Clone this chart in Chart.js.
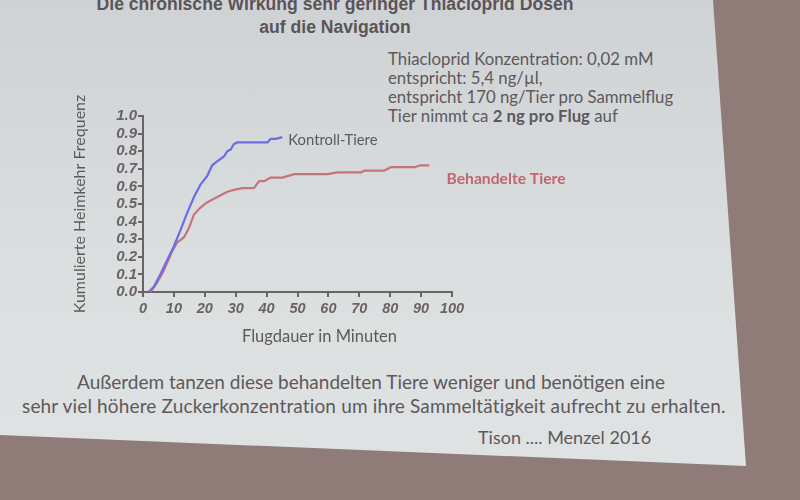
<!DOCTYPE html>
<html lang="de">
<head>
<meta charset="utf-8">
<title>Thiacloprid Heimkehr</title>
<script src="https://cdn.jsdelivr.net/npm/chart.js@4.4.1/dist/chart.umd.min.js"></script>
<style>
  html, body {
    margin: 0;
    padding: 0;
    width: 800px;
    height: 500px;
    overflow: hidden;
    background: #8f7b77;
  }
  #slide {
    position: absolute;
    left: 0;
    top: 0;
    width: 800px;
    height: 500px;
    background: linear-gradient(180deg, #cfd2d4 0%, #dcdfe0 55%, #e0e3e4 100%);
    clip-path: polygon(0 0, 713px 0, 746px 466px, 0 435px);
  }
  .txt {
    position: absolute;
    white-space: nowrap;
    color: #5e585b;
  }
  .title {
    font-family: "Liberation Sans", Arial, sans-serif;
    font-weight: bold;
    font-size: 17.6px;
    color: #5b5457;
    width: 670px;
    left: 0;
    text-align: center;
  }
  .note {
    font-family: Lato, "Open Sans", sans-serif;
    font-size: 16.8px;
    line-height: 19px;
  }
  .foot {
    font-family: Lato, "Open Sans", sans-serif;
    font-size: 19px;
  }
  #wrap {
    position: absolute;
    left: 0;
    top: 0;
    width: 800px;
    height: 500px;
  }
</style>
</head>
<body>
<div id="slide"></div>

<div class="txt title" style="top:-6px;">Die chronische Wirkung sehr geringer Thiacloprid Dosen</div>
<div class="txt title" style="top:17px;">auf die Navigation</div>

<div class="txt note" style="left:388px; top:49px;">Thiacloprid Konzentration: 0,02 mM<br>entspricht: 5,4 ng/µl,<br>entspricht 170 ng/Tier pro Sammelflug<br>Tier nimmt ca <b>2 ng pro Flug</b> auf</div>

<div class="txt foot" style="left:77px; top:370px;">Außerdem tanzen diese behandelten Tiere weniger und benötigen eine</div>
<div class="txt foot" style="left:22px; top:394px; letter-spacing:0.15px;">sehr viel höhere Zuckerkonzentration um ihre Sammeltätigkeit aufrecht zu erhalten.</div>
<div class="txt foot" style="left:478px; top:426px; font-size:18px;">Tison .... Menzel 2016</div>

<div id="wrap"><canvas id="heimkehrChart"></canvas></div>

<script>
// Kumulierte Heimkehr-Frequenz
const kontrollMinuten = [1.8, 3.5, 5.6, 7.8, 10.0, 12.1, 14.3, 16.5, 18.6, 20.8, 22.4, 24.6, 26.2, 27.3, 28.4, 29.4, 30.5, 32.1, 35.9, 40.3, 41.3, 42.9, 45.1];
const kontrollAnteil = [0.00, 0.03, 0.10, 0.18, 0.26, 0.35, 0.45, 0.54, 0.61, 0.66, 0.72, 0.75, 0.77, 0.80, 0.81, 0.84, 0.85, 0.85, 0.85, 0.85, 0.87, 0.87, 0.88];

const behandeltMinuten = [2.4, 4.5, 6.7, 9.4, 11.0, 13.2, 14.8, 16.5, 18.6, 20.8, 23.0, 25.1, 27.3, 29.4, 32.1, 35.9, 37.6, 39.2, 41.3, 45.1, 48.9, 55.4, 59.7, 63.0, 70.6, 71.6, 78.1, 80.3, 81.4, 87.9, 90.0, 92.7];
const behandeltAnteil = [0.00, 0.05, 0.12, 0.23, 0.28, 0.31, 0.36, 0.44, 0.48, 0.51, 0.53, 0.55, 0.57, 0.58, 0.59, 0.59, 0.63, 0.63, 0.65, 0.65, 0.67, 0.67, 0.67, 0.68, 0.68, 0.69, 0.69, 0.71, 0.71, 0.71, 0.72, 0.72];

const seriesNames = ['Kontroll-Tiere', 'Behandelte Tiere'];
const xTicks = [0, 10, 20, 30, 40, 50, 60, 70, 80, 90, 100];
const yTicks = [0.0, 0.1, 0.2, 0.3, 0.4, 0.5, 0.6, 0.7, 0.8, 0.9, 1.0];

const axisTitleX = 'Flugdauer in Minuten';
const axisTitleY = 'Kumulierte Heimkehr Frequenz';


/**
 * Pairs two value arrays into {x, y} points for a linear x axis.
 */
function toPoints(xs, ys) {
    return xs.map((x, i) => ({ x: x, y: ys[i] }));
}


/**
 * Writes each series name next to the last point of its line,
 * and the x axis title a little right of the axis centre.
 */
const extraLabels = {
    id: 'extraLabels',
    afterDatasetsDraw(chart, args, opts) {
        const ctx = chart.ctx;
        chart.data.datasets.forEach((ds, i) => {
            const meta = chart.getDatasetMeta(i);
            const last = meta.data[meta.data.length - 1];
            if (!last) return;
            const style = opts.styles[i];
            ctx.save();
            ctx.font = style.font;
            ctx.fillStyle = style.color;
            ctx.textBaseline = 'middle';
            ctx.textAlign = 'left';
            ctx.fillText(ds.label, last.x + style.dx, last.y + style.dy);
            ctx.restore();
        });

        // x axis title, shifted like in the scanned figure
        const xs = chart.scales.x;
        ctx.save();
        ctx.font = opts.xTitle.font;
        ctx.fillStyle = opts.xTitle.color;
        ctx.textAlign = 'center';
        ctx.textBaseline = 'middle';
        ctx.fillText(axisTitleX, (xs.left + xs.right) / 2 + opts.xTitle.dx, xs.bottom - 13);
        ctx.restore();
    }
};

const tickFontX = { family: '"Liberation Sans", Arial, sans-serif', size: 14.5, weight: 'bold', style: 'italic' };
const tickFontY = { family: '"Liberation Sans", Arial, sans-serif', size: 15, weight: 'bold', style: 'italic' };
const axisColor = '#6a6265';

const ctx = document.getElementById('heimkehrChart').getContext('2d');

new Chart(ctx, {
    type: 'line',
    data: {
        datasets: [
            {
                label: seriesNames[0],
                data: toPoints(kontrollMinuten, kontrollAnteil),
                borderColor: '#6d6ce4',
                borderWidth: 2.2,
                pointRadius: 0,
                tension: 0,
                fill: false,
            },
            {
                label: seriesNames[1],
                data: toPoints(behandeltMinuten, behandeltAnteil),
                borderColor: '#c4747c',
                borderWidth: 2.2,
                pointRadius: 0,
                tension: 0,
                fill: false,
            },
        ],
    },
    options: {
        responsive: true,
        maintainAspectRatio: false,
        animation: false,
        layout: {
            padding: { left: 70, right: 348, top: 116, bottom: 150 },
        },
        scales: {
            x: {
                type: 'linear',
                min: 0,
                max: 100,
                afterBuildTicks: (scale) => {
                    scale.ticks = xTicks.map(v => ({ value: v }));
                },
                afterFit: (scale) => {
                    scale.height = 58;
                },
                ticks: {
                    color: axisColor,
                    font: tickFontX,
                    padding: 3,
                    maxRotation: 0,
                    autoSkip: false,
                },
                grid: {
                    drawOnChartArea: false,
                    drawTicks: true,
                    tickLength: 5,
                    color: axisColor,
                    lineWidth: 2,
                },
                border: { display: true, color: axisColor, width: 2 },
                title: { display: false },
            },
            y: {
                type: 'linear',
                min: 0,
                max: 1,
                afterBuildTicks: (scale) => {
                    scale.ticks = yTicks.map(v => ({ value: v }));
                },
                afterFit: (scale) => {
                    scale.width = 73;
                },
                ticks: {
                    color: axisColor,
                    font: tickFontY,
                    padding: 1,
                    autoSkip: false,
                    callback: (v) => Number(v).toFixed(1),
                },
                grid: {
                    drawOnChartArea: false,
                    drawTicks: true,
                    tickLength: 5,
                    color: axisColor,
                    lineWidth: 2,
                },
                border: { display: true, color: axisColor, width: 2 },
                title: {
                    display: true,
                    text: axisTitleY,
                    color: '#5e585b',
                    font: { family: 'Lato, "Open Sans", sans-serif', size: 16 },
                    padding: { top: 0, bottom: 0 },
                },
            },
        },
        plugins: {
            legend: { display: false },
            tooltip: { enabled: false },
            extraLabels: {
                styles: [
                    { font: '14.8px Lato, "Open Sans", sans-serif', color: '#5e585b', dx: 6, dy: 3 },
                    { font: 'bold 15.7px Lato, "Open Sans", sans-serif', color: '#c2656f', dx: 17, dy: 14 },
                ],
                xTitle: { font: '16.5px Lato, "Open Sans", sans-serif', color: '#5e585b', dx: 22 },
            },
        },
    },
    plugins: [extraLabels],
});
</script>
</body>
</html>
